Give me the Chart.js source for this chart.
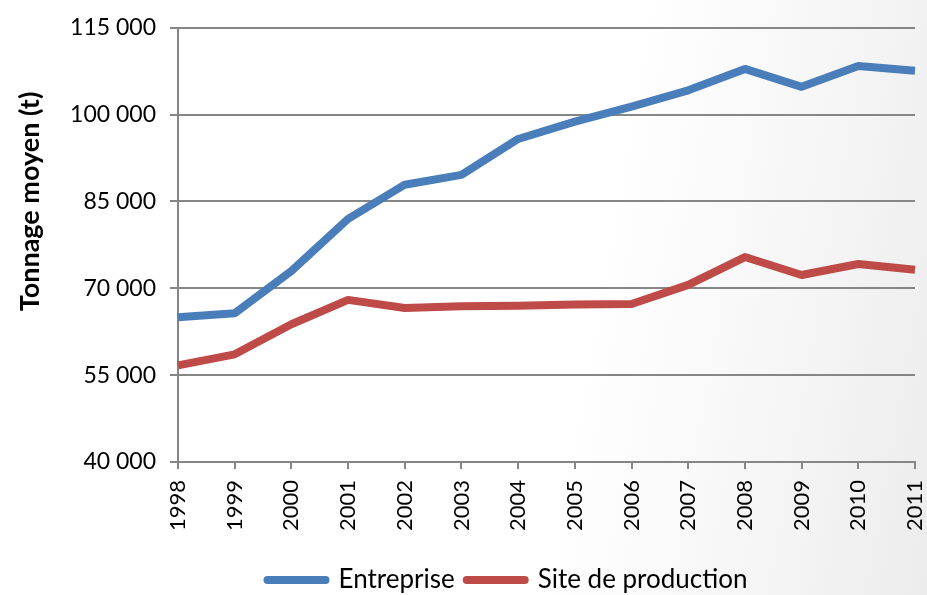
<!DOCTYPE html>
<html lang="fr">
<head>
<meta charset="utf-8">
<title>Tonnage moyen</title>
<script src="https://cdn.jsdelivr.net/npm/chart.js@4.4.1/dist/chart.umd.min.js"></script>
<style>
    html, body { margin: 0; padding: 0; }
    body {
        width: 927px; height: 595px; overflow: hidden;
        background: linear-gradient(100deg, #ffffff 0%, #ffffff 62%, #f6f6f6 82%, #ececec 100%);
    }
    #graficoContainer { display: block; }
</style>
</head>
<body>
<canvas id="graficoContainer" width="927" height="595"></canvas>
<script>
// données
const annees = ['1998', '1999', '2000', '2001', '2002', '2003', '2004', '2005', '2006', '2007', '2008', '2009', '2010', '2011'];
const entreprise = [65000, 65700, 73000, 82000, 87900, 89600, 95800, 98800, 101400, 104200, 107900, 104800, 108400, 107600];
const siteProduction = [56700, 58600, 63800, 68000, 66600, 66900, 67000, 67200, 67300, 70600, 75400, 72300, 74200, 73200];
const ticksY = [40000, 55000, 70000, 85000, 100000, 115000];
const titreY = 'Tonnage moyen (t)';

const police = "Lato, 'Open Sans', sans-serif";
const gris = '#868686';

function formatMilliers(v) {
    return String(v).replace(/\B(?=(\d{3})+(?!\d))/g, ' ');
}

// titre de l'axe Y, un peu au-dessus du centre comme sur l'original
const pluginTitreY = {
    id: 'titreY',
    afterDraw(chart) {
        const ctx = chart.ctx;
        const y = chart.scales.y;
        ctx.save();
        ctx.translate(30, y.getPixelForValue(85000));
        ctx.rotate(-Math.PI / 2);
        ctx.font = `bold 27px ${police}`;
        ctx.fillStyle = '#000';
        ctx.textAlign = 'center';
        ctx.textBaseline = 'middle';
        ctx.fillText(titreY, 0, 0);
        ctx.restore();
    }
};

// décale la légende vers la droite (centrée sous le graphique)
const pluginLegende = {
    id: 'decaleLegende',
    afterLayout(chart) {
        chart.legend.left += 50;
        chart.legend.right += 50;
    }
};

document.addEventListener('DOMContentLoaded', function() {
    const graficoContainer = document.getElementById('graficoContainer');

    const graficoData = {
        labels: annees,
        datasets: [{
            label: 'Entreprise',
            data: entreprise,
            borderColor: '#4a7ebb',
            backgroundColor: '#4a7ebb',
        }, {
            label: 'Site de production',
            data: siteProduction,
            borderColor: '#be4b48',
            backgroundColor: '#be4b48',
        }]
    };

    const config = {
        type: 'line',
        data: graficoData,
        plugins: [pluginTitreY, pluginLegende],
        options: {
            responsive: false,
            animation: false,
            layout: { padding: { top: 23, right: 12, left: 0, bottom: -8 } },
            elements: {
                line: { borderWidth: 8, tension: 0, borderJoinStyle: 'round' },
                point: { radius: 0, hoverRadius: 0 }
            },
            scales: {
                x: {
                    afterFit: scale => {
                        scale.height = 93;
                        scale.paddingLeft = 0;
                        scale.paddingRight = 0;
                    },
                    grid: { display: true, drawOnChartArea: false, drawTicks: true, tickLength: 7, color: gris, lineWidth: 2 },
                    border: { display: true, color: gris, width: 2 },
                    ticks: {
                        minRotation: 90, maxRotation: 90, padding: 11,
                        color: '#000', font: { family: police, size: 22 }
                    }
                },
                y: {
                    min: 40000, max: 115000,
                    afterFit: scale => { scale.width = 178; },
                    afterBuildTicks: scale => { scale.ticks = ticksY.map(v => ({ value: v })); },
                    grid: { color: gris, lineWidth: 2, tickLength: 8 },
                    border: { display: true, color: gris, width: 2 },
                    ticks: {
                        padding: 14, color: '#000',
                        font: { family: police, size: 23 },
                        callback: v => formatMilliers(v)
                    }
                }
            },
            plugins: {
                tooltip: { enabled: false },
                legend: {
                    position: 'bottom',
                    labels: {
                        color: '#000',
                        font: { family: police, size: 26 },
                        usePointStyle: true,
                        pointStyle: 'line',
                        pointStyleWidth: 58,
                        padding: 12,
                        generateLabels: chart => Chart.defaults.plugins.legend.labels.generateLabels(chart)
                            .map(l => Object.assign(l, { lineCap: 'round', lineWidth: 8, pointStyle: 'line' }))
                    }
                }
            }
        }
    };

    new Chart(graficoContainer, config);
});
</script>
</body>
</html>
